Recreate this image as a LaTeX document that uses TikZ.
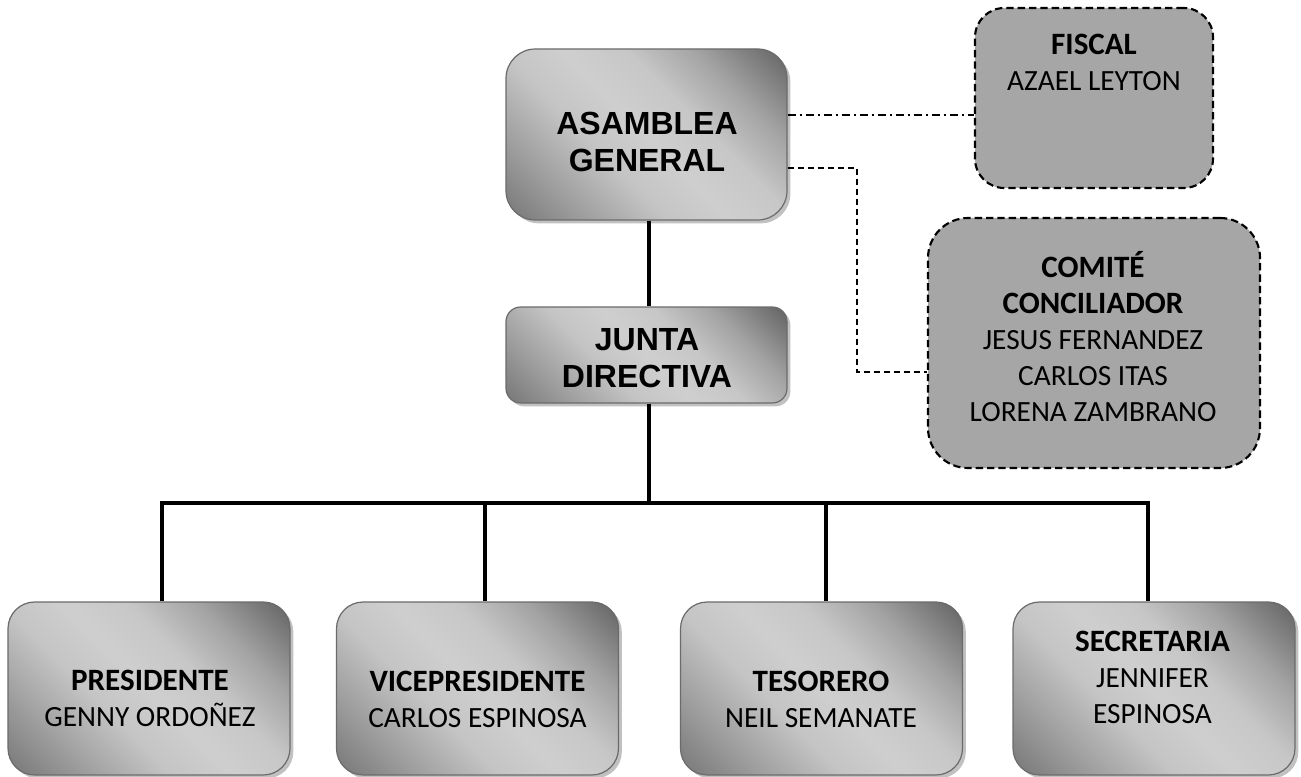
\documentclass[tikz,border=0pt]{standalone}
\usepackage{fontspec}
\newfontfamily\calib{Carlito}
\newfontfamily\arialf{Liberation Sans}
\usetikzlibrary{shadows}
\newcommand\boldline[1]{{\fontsize{23.3}{27}\selectfont\bfseries #1}}
\pgfdeclarehorizontalshading{boxgrad}{100bp}{%
 rgb(0bp)=(0.44,0.44,0.44);
 rgb(15bp)=(0.47,0.47,0.47);
 rgb(28bp)=(0.63,0.63,0.63);
 rgb(40bp)=(0.77,0.77,0.77);
 rgb(50bp)=(0.81,0.81,0.81);
 rgb(60bp)=(0.78,0.78,0.78);
 rgb(71bp)=(0.64,0.64,0.64);
 rgb(85bp)=(0.39,0.39,0.39);
 rgb(100bp)=(0.37,0.37,0.37)}
\tikzset{
 gbox/.style={draw=black!58, line width=0.9pt, rounded corners=#1, shading=boxgrad, shading angle=45,
   inner sep=0pt, drop shadow={shadow xshift=2.5pt, shadow yshift=-2.5pt, fill=black!40, opacity=0.6}},
 dbox/.style={draw=black, line width=1.6pt, dash pattern=on 5.5pt off 3pt, fill=black!35, rounded corners=#1, inner sep=0pt},
 conn/.style={line width=2.6pt, black, line join=miter},
 dsh/.style={line width=1.1pt, dash pattern=on 4.5pt off 3pt},
 dshdot/.style={line width=1.1pt, dash pattern=on 6pt off 3pt on 1.5pt off 3pt},
 btxt/.style={font=\arialf\bfseries\fontsize{24}{28}\selectfont, align=center, inner sep=0pt},
 ctxt/.style={font=\calib\fontsize{22}{27}\selectfont, align=center, inner sep=0pt},
}
\begin{document}
\begin{tikzpicture}[x=0.75pt, y=-0.75pt]
\fill[white] (0,0) rectangle (1301,777);
\useasboundingbox (0,0) rectangle (1301,777);

% boxes
\node[gbox=22pt, minimum width=210.75pt, minimum height=128.25pt] (asamblea) at (646.5,134.5) {};
\node[gbox=11pt, minimum width=210.75pt, minimum height=72pt] (junta) at (646.5,355) {};
\node[dbox=22pt, minimum width=178.5pt, minimum height=135pt] (fiscal) at (1094,98) {};
\node[dbox=30pt, minimum width=249pt, minimum height=187.5pt] (comite) at (1094,343) {};
\node[gbox=20pt, minimum width=211.5pt, minimum height=129.75pt] (pres) at (149,688.5) {};
\node[gbox=20pt, minimum width=211.5pt, minimum height=129.75pt] (vice) at (477.5,688.5) {};
\node[gbox=20pt, minimum width=211.5pt, minimum height=129.75pt] (teso) at (821.5,688.5) {};
\node[gbox=20pt, minimum width=211.5pt, minimum height=129.75pt] (secr) at (1154,688.5) {};

% texts
\node[btxt] (asambleaT) at (647,142) {ASAMBLEA\\GENERAL};
\node[btxt] (juntaT) at (647,358) {JUNTA\\DIRECTIVA};
\node[ctxt] (fiscalT) at (1094,62.5) {\boldline{FISCAL}\\AZAEL LEYTON};
\node[ctxt] (comiteT) at (1093,336.5) {\boldline{COMITÉ}\\\boldline{CONCILIADOR}\\JESUS FERNANDEZ\\CARLOS ITAS\\LORENA ZAMBRANO};
\node[ctxt] (presT) at (150,698.5) {\boldline{PRESIDENTE}\\GENNY ORDOÑEZ};
\node[ctxt] (viceT) at (477.5,699) {\boldline{VICEPRESIDENTE}\\CARLOS ESPINOSA};
\node[ctxt] (tesoT) at (821,699) {\boldline{TESORERO}\\NEIL SEMANATE};
\node[ctxt] (secrT) at (1152.5,677) {\boldline{SECRETARIA}\\JENNIFER\\ESPINOSA};

% connector coordinates
\coordinate (jd) at (649,503);
\coordinate (d1) at (162,503);
\coordinate (d2) at (485,503);
\coordinate (d3) at (826,503);
\coordinate (d4) at (1148,503);
\coordinate (fy) at (800,115);
\coordinate (cy) at (800,168);
\coordinate (cx) at (857,372);

\draw[conn] (asamblea.south -| jd) -- (junta.north -| jd);
\draw[conn] (junta.south -| jd) -- (jd);
\draw[conn] (pres.north -| d1) -- (d1) -- (d4) -- (secr.north -| d4);
\draw[conn] (d2) -- (vice.north -| d2);
\draw[conn] (d3) -- (teso.north -| d3);

\draw[dshdot] (asamblea.east |- fy) -- (fiscal.west |- fy);
\draw[dsh] (asamblea.east |- cy) -| (cx) -- (comite.west |- cx);
\end{tikzpicture}
\end{document}
